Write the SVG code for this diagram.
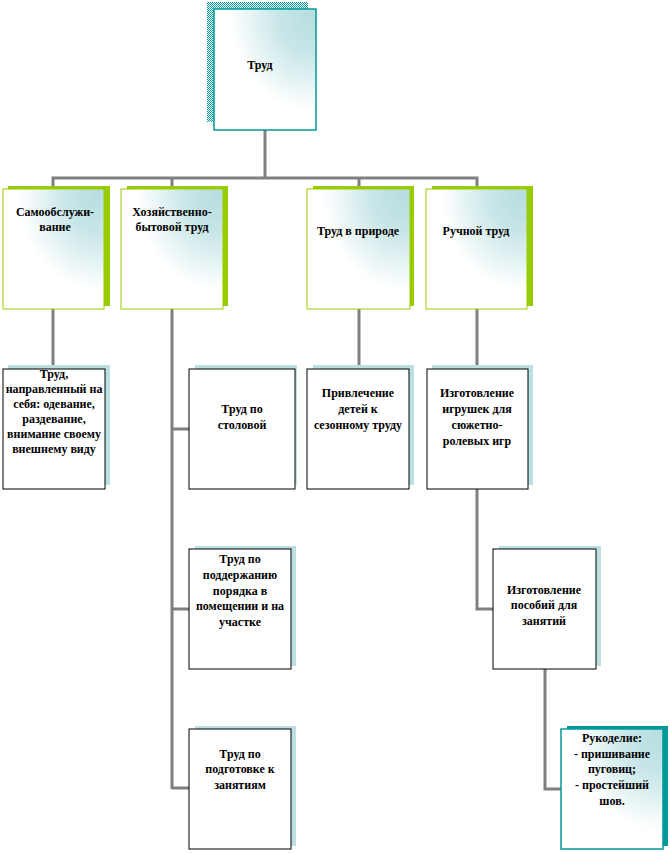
<svg xmlns="http://www.w3.org/2000/svg" width="670" height="853" viewBox="0 0 670 853">
<style>
text{font-family:"Liberation Serif","Times New Roman",serif;font-weight:bold;font-size:12px;fill:#000;text-anchor:middle}
.conn{stroke:#808080;stroke-width:3;fill:none}
.grad{fill:url(#g)}
.green-sh{fill:#99cc00}
.green-bx{stroke:#99cc00;stroke-width:1}
.teal-bx{stroke:#009999;stroke-width:1.5}
.blue-sh{fill:#bcdfe2}
.plain{fill:#fff;stroke:#000;stroke-width:1}
</style>
<defs>
<radialGradient id="g" cx="0.95" cy="0.05" r="1.05">
<stop offset="0" stop-color="#b7dde0"/>
<stop offset="0.3" stop-color="#c8e6e8"/>
<stop offset="0.75" stop-color="#ffffff"/>
<stop offset="1" stop-color="#ffffff"/>
</radialGradient>
<pattern id="chk" width="2" height="2" patternUnits="userSpaceOnUse">
<rect x="0" y="0" width="1" height="1" fill="#009999"/>
<rect x="1" y="1" width="1" height="1" fill="#009999"/>
</pattern>
</defs>
<rect width="670" height="853" fill="#fff"/>
<g id="connectors">
<path class="conn" d="M265 130V178M53 186V178H477V186M172 178V186M359 178V186"/>
<path class="conn" d="M53 309V369"/>
<path class="conn" d="M172 309V789M172 429H189M172 609H189M172 788H189"/>
<path class="conn" d="M359 309V369"/>
<path class="conn" d="M477 309V369M477 489V609H493"/>
<path class="conn" d="M545 669V789H561"/>
</g>
<g id="trud">
<rect x="207" y="2" width="101" height="120" fill="url(#chk)"/>
<rect class="grad teal-bx" x="214" y="9" width="102" height="121"/>
<text x="260" y="69">Труд</text>
</g>
<g id="samo">
<rect class="green-sh" x="8" y="186" width="102" height="120"/>
<rect class="grad green-bx" x="3" y="189" width="101" height="120"/>
<text x="55" y="216">Самообслужи-</text>
<text x="55" y="231">вание</text>
</g>
<g id="hoz">
<rect class="green-sh" x="127" y="186" width="101" height="120"/>
<rect class="grad green-bx" x="121" y="189" width="102" height="120"/>
<text x="172" y="216">Хозяйственно-</text>
<text x="172" y="231">бытовой труд</text>
</g>
<g id="priroda">
<rect class="green-sh" x="313" y="186" width="101" height="120"/>
<rect class="grad green-bx" x="307" y="189" width="103" height="120"/>
<text x="358" y="235">Труд в природе</text>
</g>
<g id="ruchnoy">
<rect class="green-sh" x="432" y="186" width="101" height="120"/>
<rect class="grad green-bx" x="426" y="189" width="101" height="120"/>
<text x="476" y="235">Ручной труд</text>
</g>
<g id="sebya">
<rect class="blue-sh" x="8" y="365" width="102" height="120"/>
<rect class="plain" x="3" y="369" width="102" height="120"/>
<text x="54" y="378">Труд,</text>
<text x="54" y="393">направленный на</text>
<text x="54" y="408">себя: одевание,</text>
<text x="54" y="423">раздевание,</text>
<text x="54" y="438">внимание своему</text>
<text x="54" y="453">внешнему виду</text>
</g>
<g id="stolovaya">
<rect class="blue-sh" x="195" y="365" width="102" height="120"/>
<rect class="plain" x="189" y="369" width="106" height="120"/>
<text x="242" y="413">Труд по</text>
<text x="242" y="429">столовой</text>
</g>
<g id="poryadok">
<rect class="blue-sh" x="195" y="546" width="101" height="120"/>
<rect class="plain" x="189" y="549" width="102" height="120"/>
<text x="240" y="563">Труд по</text>
<text x="240" y="579">поддержанию</text>
<text x="240" y="595">порядка в</text>
<text x="240" y="610">помещении и на</text>
<text x="240" y="626">участке</text>
</g>
<g id="podgotovka">
<rect class="blue-sh" x="195" y="726" width="101" height="120"/>
<rect class="plain" x="189" y="729" width="102" height="120"/>
<text x="240" y="758">Труд по</text>
<text x="240" y="773">подготовке к</text>
<text x="240" y="789">занятиям</text>
</g>
<g id="privlechenie">
<rect class="blue-sh" x="313" y="365" width="101" height="120"/>
<rect class="plain" x="307" y="369" width="102" height="120"/>
<text x="358" y="397">Привлечение</text>
<text x="358" y="413">детей к</text>
<text x="358" y="429">сезонному труду</text>
</g>
<g id="igrushki">
<rect class="blue-sh" x="432" y="365" width="101" height="120"/>
<rect class="plain" x="427" y="369" width="101" height="120"/>
<text x="477" y="397">Изготовление</text>
<text x="477" y="413">игрушек для</text>
<text x="477" y="429">сюжетно-</text>
<text x="477" y="445">ролевых игр</text>
</g>
<g id="posobiya">
<rect class="blue-sh" x="499" y="546" width="102" height="120"/>
<rect class="plain" x="493" y="549" width="103" height="120"/>
<text x="544" y="594">Изготовление</text>
<text x="544" y="609">пособий для</text>
<text x="544" y="625">занятий</text>
</g>
<g id="rukodelie">
<rect x="567" y="726" width="101" height="120" fill="#009999"/>
<rect class="grad teal-bx" x="561" y="729" width="102" height="120"/>
<text x="612" y="742">Рукоделие:</text>
<text x="612" y="758">- пришивание</text>
<text x="612" y="773">пуговиц;</text>
<text x="612" y="789">- простейший</text>
<text x="612" y="805">шов.</text>
</g>
</svg>
